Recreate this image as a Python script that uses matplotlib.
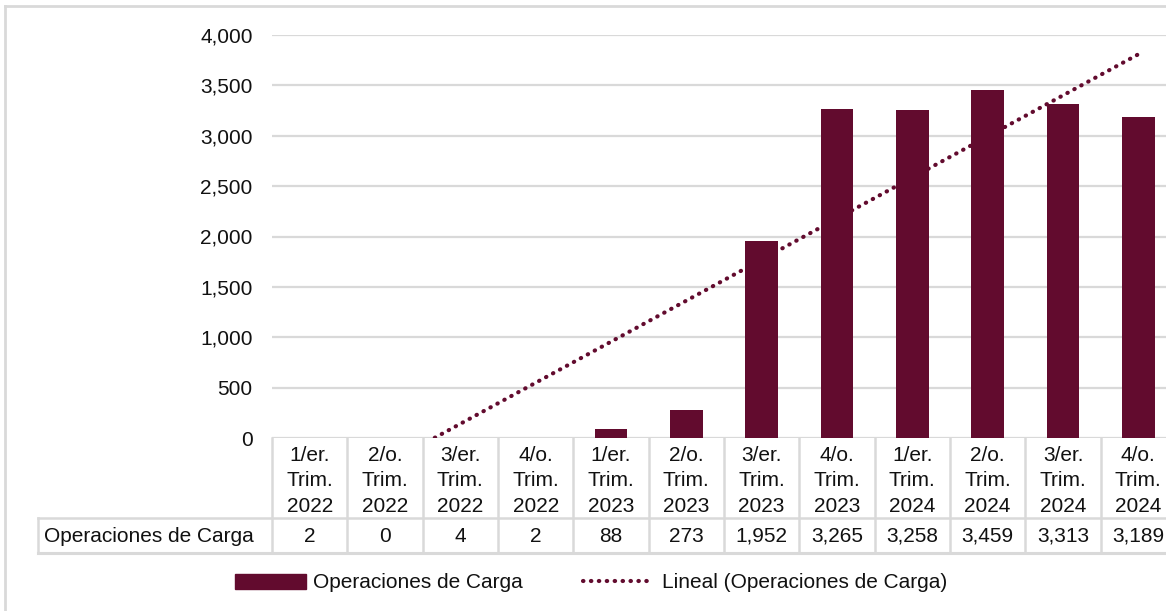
import numpy as np
import matplotlib.pyplot as plt
from matplotlib import transforms
from matplotlib.lines import Line2D
from matplotlib.patches import Patch
from matplotlib.ticker import FuncFormatter

plt.rcParams['font.family'] = ['Liberation Sans', 'DejaVu Sans']

# datos
trimestres = ['1/er.\nTrim.\n2022', '2/o.\nTrim.\n2022', '3/er.\nTrim.\n2022', '4/o.\nTrim.\n2022',
              '1/er.\nTrim.\n2023', '2/o.\nTrim.\n2023', '3/er.\nTrim.\n2023', '4/o.\nTrim.\n2023',
              '1/er.\nTrim.\n2024', '2/o.\nTrim.\n2024', '3/er.\nTrim.\n2024', '4/o.\nTrim.\n2024']
operaciones = [2, 0, 4, 2, 88, 273, 1952, 3265, 3258, 3459, 3313, 3189]
serie = 'Operaciones de Carga'
serie_tendencia = 'Lineal (Operaciones de Carga)'

color_barra = '#620b2e'
gris = '#d9d9d9'
fs = 15
punteado = (0, (0.1, 1.8))

W, H = 1166, 611
fig = plt.figure(figsize=(W / 100, H / 100), dpi=100)


def fx(px):
    return px / W


def fy(py):
    return 1 - py / H


# borde exterior (solo se ven izquierda y arriba)
fig.add_artist(Line2D([fx(5), fx(5)], [0, fy(6)], color=gris, lw=2))
fig.add_artist(Line2D([fx(5), 1], [fy(6), fy(6)], color=gris, lw=2))

ax = fig.add_axes([fx(272), fy(438), fx(1176) - fx(272), fy(35) - fy(438)])
x = np.arange(len(operaciones))
ax.bar(x, operaciones, width=0.43, color=color_barra, zorder=2)

# linea de tendencia (ajuste lineal de los datos)
coef = np.polyfit(x, operaciones, 1)
ax.plot(x, np.polyval(coef, x), color=color_barra, lw=3.0,
        linestyle=punteado, dash_capstyle='round', zorder=3)

ax.set_xlim(-0.5, len(operaciones) - 0.5)
ax.set_ylim(0, 4000)
ax.set_yticks(np.arange(0, 4001, 500))
ax.yaxis.set_major_formatter(FuncFormatter(lambda v, p: f'{v:,.0f}'))
ax.tick_params(axis='y', length=0, pad=14, labelsize=fs, labelcolor='#111111')
ax.set_xticks([])
for s in ax.spines.values():
    s.set_visible(False)
ax.grid(axis='y', color=gris, lw=1.6)
ax.set_axisbelow(True)

# tabla de datos
mix = transforms.blended_transform_factory(ax.transData, fig.transFigure)
for i in range(len(operaciones) + 1):
    ax.plot([i - 0.5, i - 0.5], [fy(438), fy(553)], transform=mix,
            clip_on=False, color=gris, lw=1.8)
fig.add_artist(Line2D([fx(38), 1], [fy(518), fy(518)], color=gris, lw=1.8))
fig.add_artist(Line2D([fx(38), 1], [fy(553), fy(553)], color=gris, lw=2.2))
fig.add_artist(Line2D([fx(38), fx(38)], [fy(518), fy(553)], color=gris, lw=1.8))

for i, (q, v) in enumerate(zip(trimestres, operaciones)):
    ax.text(i, fy(481), q, transform=mix, ha='center', va='center',
            fontsize=fs, linespacing=1.45, clip_on=False, color='#111111')
    ax.text(i, fy(536), f'{v:,}', transform=mix, ha='center', va='center',
            fontsize=fs, clip_on=False, color='#111111')
fig.text(fx(44), fy(536), serie, ha='left', va='center', fontsize=fs, color='#111111')

# leyenda
handles = [Patch(color=color_barra, label=serie),
           Line2D([], [], color=color_barra, lw=3.0, linestyle=punteado,
                  dash_capstyle='round', label=serie_tendencia)]
fig.legend(handles=handles, loc='center', bbox_to_anchor=(fx(591), fy(583)),
           ncol=2, frameon=False, fontsize=fs, handlelength=3.4,
           handletextpad=0.35, columnspacing=2.9, labelcolor='#111111')

fig.savefig('out.png', dpi=100)
